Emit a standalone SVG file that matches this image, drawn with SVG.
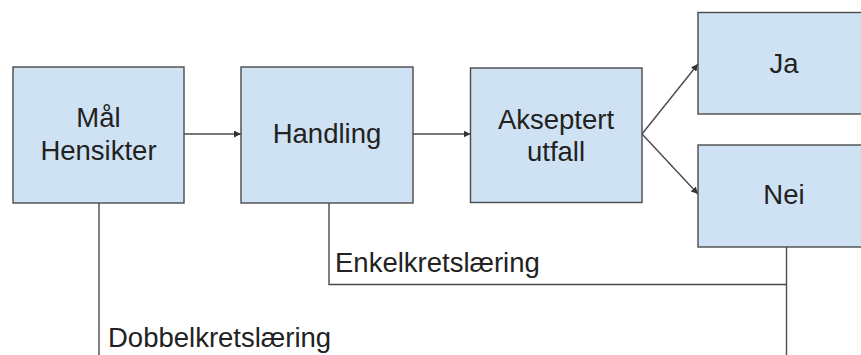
<svg xmlns="http://www.w3.org/2000/svg" width="861" height="355" viewBox="0 0 861 355">
<style>
.box{fill:#cfe2f3;stroke:#4a4a4a;stroke-width:1.4}
.lbl{font-family:"Liberation Sans",Arial,sans-serif;font-size:27.5px;fill:#222;text-anchor:middle}
.elbl{font-family:"Liberation Sans",Arial,sans-serif;font-size:27.5px;fill:#222}
.ln{fill:none;stroke:#4a4a4a;stroke-width:1.4}
</style>
<defs>
<marker id="arr" viewBox="0 0 10 10" refX="10" refY="5" markerWidth="7" markerHeight="7" markerUnits="userSpaceOnUse" orient="auto">
<path d="M0,0 L10,5 L0,10 z" fill="#333"/>
</marker>
</defs>
<rect width="861" height="355" fill="#fff"/>
<g id="connectors">
<line class="ln" x1="184" y1="134" x2="241" y2="134" marker-end="url(#arr)"/>
<line class="ln" x1="413" y1="134" x2="470.5" y2="134" marker-end="url(#arr)"/>
<line class="ln" x1="642" y1="134" x2="698" y2="64" marker-end="url(#arr)"/>
<line class="ln" x1="642" y1="134" x2="698" y2="194" marker-end="url(#arr)"/>
<polyline class="ln" points="329,203 329,284.5 786.5,284.5"/>
<line class="ln" x1="786.5" y1="247" x2="786.5" y2="355"/>
<line class="ln" x1="99" y1="203" x2="99" y2="355"/>
<text class="elbl" x="335" y="272">Enkelkretslæring</text>
<text class="elbl" x="108" y="347">Dobbelkretslæring</text>
</g>
<g id="maal">
<rect class="box" x="13" y="67" width="171" height="136"/>
<text class="lbl" x="98.5" y="127">Mål</text>
<text class="lbl" x="98.5" y="160">Hensikter</text>
</g>
<g id="handling">
<rect class="box" x="241" y="67" width="172" height="136"/>
<text class="lbl" x="327" y="143">Handling</text>
</g>
<g id="akseptert">
<rect class="box" x="470.5" y="68" width="171.5" height="134.5"/>
<text class="lbl" x="556" y="129">Akseptert</text>
<text class="lbl" x="556" y="161">utfall</text>
</g>
<g id="ja">
<rect class="box" x="698" y="12.5" width="172" height="101.5"/>
<text class="lbl" x="784" y="73">Ja</text>
</g>
<g id="nei">
<rect class="box" x="698" y="145" width="172" height="102"/>
<text class="lbl" x="784" y="204">Nei</text>
</g>
</svg>
